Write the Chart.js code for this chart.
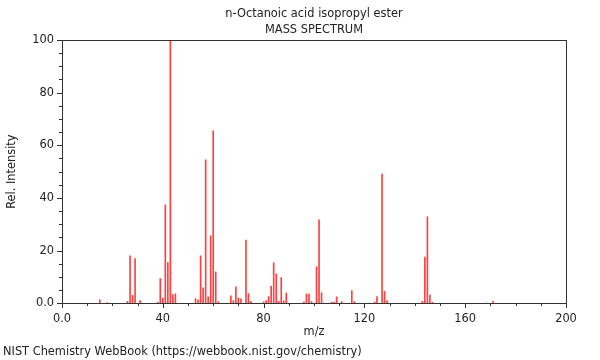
<!DOCTYPE html>
<html lang="en">
<head>
    <meta charset="UTF-8">
    <title>n-Octanoic acid isopropyl ester - mass spectrum</title>
    <script src="https://cdn.jsdelivr.net/npm/chart.js"></script>
    <style>
        html, body {
            margin: 0;
            padding: 0;
            background: #fff;
        }
    </style>
</head>
<body>
    <canvas id="msChart" width="600" height="360"></canvas>

    <script>
        // peaks (m/z, relative intensity)
        const mz = [15, 18, 26, 27, 28, 29, 31, 38, 39, 40, 41, 42, 43, 44, 45,
            53, 54, 55, 56, 57, 58, 59, 60, 61, 62, 67, 68, 69, 70, 71, 73, 74, 75,
            80, 81, 82, 83, 84, 85, 86, 87, 88, 89, 96, 97, 98, 99, 101, 102, 103,
            107, 108, 109, 111, 115, 116, 124, 125, 127, 128, 129,
            143, 144, 145, 146, 147, 171];
        const intensity = [1.3, 0.3, 0.8, 18, 3, 17, 1, 0.5, 9.4, 2, 37.4, 15.5, 100, 3.3, 3.6,
            1.8, 1.3, 18, 5.9, 54.5, 2.5, 25.6, 65.5, 12, 0.7, 2.8, 1, 6.3, 2, 1.7, 24, 3.7, 0.8,
            0.6, 1, 2.6, 6.5, 15.4, 11.2, 0.8, 9.8, 0.9, 3.9, 0.5, 3.5, 3.5, 0.7, 13.9, 31.7, 4,
            0.5, 0.5, 2.5, 0.7, 4.8, 0.7, 0.5, 2.6, 49.1, 4.6, 1,
            0.8, 17.6, 32.8, 3.1, 0.4, 0.8];

        const titleLines = ['n-Octanoic acid isopropyl ester', 'MASS SPECTRUM'];
        const footerText = 'NIST Chemistry WebBook (https://webbook.nist.gov/chemistry)';
        const xLabels = ['0.0', '40', '80', '120', '160', '200'];   // every 40
        const yLabels = ['0.0', '20', '40', '60', '80', '100'];     // every 20

        const points = mz.map((m, i) => ({ x: m, y: intensity[i] }));
        const textColor = '#222';
        const axisColor = '#333';
        const fontSize = 11.4;

        // frame + major/minor tick marks
        const frameTicks = {
            id: 'frameTicks',
            afterDraw(chart) {
                const ctx = chart.ctx;
                const area = chart.chartArea;
                const xs = chart.scales.x;
                const ys = chart.scales.y;
                ctx.save();
                ctx.strokeStyle = axisColor;
                ctx.lineWidth = 1;
                ctx.strokeRect(Math.round(area.left) + 0.5, Math.round(area.top) + 0.5,
                    Math.round(area.right - area.left), Math.round(area.bottom - area.top));
                ctx.beginPath();
                for (let v = 0; v <= 200; v += 10) {
                    const px = Math.round(xs.getPixelForValue(v)) + 0.5;
                    const len = v % 40 === 0 ? 5 : 3;
                    ctx.moveTo(px, Math.round(area.bottom));
                    ctx.lineTo(px, Math.round(area.bottom) + len);
                }
                for (let v = 0; v <= 100; v += 5) {
                    const py = Math.round(ys.getPixelForValue(v)) + 0.5;
                    const len = v % 20 === 0 ? 5 : 3;
                    ctx.moveTo(Math.round(area.left), py);
                    ctx.lineTo(Math.round(area.left) - len, py);
                }
                ctx.stroke();
                ctx.restore();
            }
        };

        const ctx = document.getElementById('msChart').getContext('2d');
        const msChart = new Chart(ctx, {
            type: 'bar',
            data: {
                datasets: [{
                    label: 'Rel. Intensity',
                    data: points,
                    backgroundColor: 'rgba(255, 0, 0, 0.75)',
                    borderWidth: 0,
                    barThickness: 1
                }]
            },
            plugins: [frameTicks],
            options: {
                responsive: false,
                animation: false,
                layout: {
                    padding: { top: 6, left: 3, right: 34, bottom: 0 }
                },
                scales: {
                    x: {
                        type: 'linear',
                        min: 0,
                        max: 200,
                        offset: false,
                        grid: { display: false, drawTicks: false, offset: false },
                        border: { display: false },
                        afterFit: scale => { scale.height = 40; },
                        ticks: {
                            stepSize: 10,
                            autoSkip: false,
                            maxRotation: 0,
                            padding: 9,
                            color: textColor,
                            font: { family: 'DejaVu Sans', size: fontSize },
                            callback: value => value % 40 === 0 ? xLabels[value / 40] : ''
                        },
                        title: {
                            display: true,
                            text: 'm/z',
                            color: textColor,
                            padding: { top: 3, bottom: 4 },
                            font: { family: 'DejaVu Sans', size: fontSize }
                        }
                    },
                    y: {
                        min: 0,
                        max: 100,
                        grid: { display: false, drawTicks: false },
                        border: { display: false },
                        afterFit: scale => { scale.width = 59; },
                        ticks: {
                            stepSize: 5,
                            autoSkip: false,
                            padding: 8,
                            color: textColor,
                            font: { family: 'DejaVu Sans', size: fontSize },
                            callback: value => value % 20 === 0 ? yLabels[value / 20] : ''
                        },
                        title: {
                            display: true,
                            text: 'Rel. Intensity',
                            color: textColor,
                            padding: { top: 2, bottom: 3 },
                            font: { family: 'DejaVu Sans', size: fontSize }
                        }
                    }
                },
                plugins: {
                    legend: { display: false },
                    tooltip: { enabled: false },
                    title: {
                        display: true,
                        text: titleLines,
                        fullSize: false,
                        color: textColor,
                        padding: { top: 0, bottom: 2 },
                        font: { family: 'DejaVu Sans', size: fontSize, weight: 'normal', lineHeight: 16 / fontSize }
                    },
                    subtitle: {
                        display: true,
                        text: footerText,
                        position: 'bottom',
                        align: 'start',
                        color: textColor,
                        padding: { top: 2, bottom: 1 },
                        font: { family: 'DejaVu Sans', size: fontSize }
                    }
                }
            }
        });
    </script>
</body>
</html>
